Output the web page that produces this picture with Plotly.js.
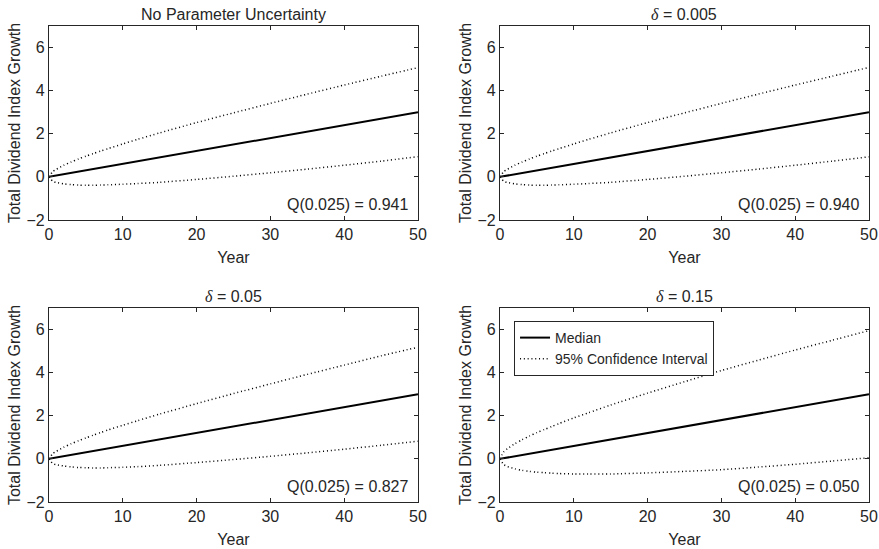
<!DOCTYPE html>
<html>
<head>
<meta charset="utf-8">
<script src="https://cdn.plot.ly/plotly-3.0.1.min.js"></script>
<style>html,body{margin:0;padding:0;background:#fff;}#chart{width:879px;height:549px;}</style>
</head>
<body>
<div id="chart"></div>
<script>
const years = [0, 0.5, 1, 2, 3, 4, 5, 6, 7, 8, 10, 12, 15, 20, 25, 30, 35, 40, 45, 50];

// Median (same in every panel)
const median = [0, 0.03, 0.06, 0.12, 0.18, 0.24, 0.30, 0.36, 0.42, 0.48, 0.60, 0.72, 0.90, 1.20, 1.50, 1.80, 2.10, 2.40, 2.70, 3.00];

// Panel 1: No Parameter Uncertainty
const upper1 = [0, 0.24, 0.35, 0.54, 0.69, 0.83, 0.96, 1.08, 1.20, 1.31, 1.53, 1.74, 2.04, 2.52, 2.97, 3.41, 3.84, 4.26, 4.67, 5.07];
const lower1 = [0, -0.20, -0.26, -0.32, -0.36, -0.38, -0.39, -0.39, -0.38, -0.37, -0.34, -0.31, -0.25, -0.12, 0.03, 0.19, 0.36, 0.54, 0.73, 0.94];

// Panel 2: delta = 0.005
const upper2 = [0, 0.24, 0.35, 0.54, 0.69, 0.83, 0.96, 1.08, 1.20, 1.31, 1.53, 1.74, 2.04, 2.52, 2.97, 3.41, 3.84, 4.26, 4.67, 5.08];
const lower2 = [0, -0.20, -0.26, -0.32, -0.36, -0.38, -0.39, -0.39, -0.38, -0.37, -0.34, -0.31, -0.25, -0.12, 0.03, 0.19, 0.36, 0.54, 0.73, 0.93];

// Panel 3: delta = 0.05
const upper3 = [0, 0.24, 0.35, 0.54, 0.70, 0.84, 0.97, 1.10, 1.22, 1.34, 1.56, 1.77, 2.08, 2.56, 3.03, 3.48, 3.92, 4.35, 4.78, 5.18];
const lower3 = [0, -0.21, -0.27, -0.33, -0.37, -0.40, -0.41, -0.42, -0.42, -0.41, -0.39, -0.36, -0.30, -0.17, -0.03, 0.12, 0.28, 0.45, 0.63, 0.82];

// Panel 4: delta = 0.15
const upper4 = [0, 0.32, 0.47, 0.70, 0.89, 1.06, 1.22, 1.36, 1.50, 1.64, 1.90, 2.14, 2.50, 3.05, 3.58, 4.10, 4.58, 5.05, 5.50, 5.95];
const lower4 = [0, -0.26, -0.35, -0.46, -0.53, -0.58, -0.62, -0.64, -0.66, -0.68, -0.70, -0.70, -0.70, -0.65, -0.58, -0.50, -0.38, -0.25, -0.10, 0.05];

const panelTitles = [
  'No Parameter Uncertainty',
  '<span style="font-family:\'Liberation Serif\',serif;font-style:italic">δ</span> = 0.005',
  '<span style="font-family:\'Liberation Serif\',serif;font-style:italic">δ</span> = 0.05',
  '<span style="font-family:\'Liberation Serif\',serif;font-style:italic">δ</span> = 0.15'
];
const qLabels = ['Q(0.025) = 0.941', 'Q(0.025) = 0.940', 'Q(0.025) = 0.827', 'Q(0.025) = 0.050'];
const xTickVals = [0, 10, 20, 30, 40, 50];
const yTickVals = [-2, 0, 2, 4, 6];
const seriesNames = ['Median', '95% Confidence Interval'];

const uppers = [upper1, upper2, upper3, upper4];
const lowers = [lower1, lower2, lower3, lower4];

const ink = '#262626';
const font = 'Liberation Sans, Arial, Helvetica, sans-serif';
const dotted = '1px,2.8px';

const xDomains = [[0.0557, 0.4755], [0.5688, 0.9886], [0.0557, 0.4755], [0.5688, 0.9886]];
const yDomains = [[0.5993, 0.9526], [0.5993, 0.9526], [0.0856, 0.4390], [0.0856, 0.4390]];

const traces = [];
const layout = {
  width: 879, height: 549,
  margin: {l: 0, r: 0, t: 0, b: 0},
  paper_bgcolor: '#fff', plot_bgcolor: '#fff',
  font: {family: font, color: ink, size: 16},
  showlegend: true,
  legend: {
    x: 0.5848, y: 0.4153, xanchor: 'left', yanchor: 'top',
    bgcolor: '#fff', bordercolor: ink, borderwidth: 1,
    font: {size: 14, family: font, color: ink},
    tracegroupgap: 0, itemwidth: 30
  },
  annotations: []
};

for (let i = 0; i < 4; i++) {
  const s = i === 0 ? '' : String(i + 1);
  const xa = 'x' + s, ya = 'y' + s;
  const isLast = i === 3;
  traces.push({x: years, y: median, xaxis: xa, yaxis: ya, type: 'scatter', mode: 'lines',
    line: {color: '#000', width: 2}, name: seriesNames[0], showlegend: isLast, legendgroup: 'm', hoverinfo: 'skip'});
  traces.push({x: years, y: uppers[i], xaxis: xa, yaxis: ya, type: 'scatter', mode: 'lines', line: {shape: 'spline', smoothing: 0.6,
    color: '#000', width: 1.5, dash: dotted}, name: seriesNames[1], showlegend: isLast, legendgroup: 'c', hoverinfo: 'skip'});
  traces.push({x: years, y: lowers[i], xaxis: xa, yaxis: ya, type: 'scatter', mode: 'lines', line: {shape: 'spline', smoothing: 0.6,
    color: '#000', width: 1.5, dash: dotted}, name: seriesNames[1], showlegend: false, legendgroup: 'c', hoverinfo: 'skip'});

  const axCommon = {showline: true, linecolor: ink, linewidth: 1, mirror: 'ticks', ticks: 'inside', ticklen: 4,
    tickcolor: ink, tickwidth: 1, showgrid: false, zeroline: false, tickfont: {size: 16, family: font, color: ink}};
  layout['xaxis' + s] = Object.assign({}, axCommon, {
    domain: xDomains[i], anchor: ya, range: [0, 50], tickvals: xTickVals,
    title: {text: 'Year', font: {size: 16, family: font, color: ink}, standoff: 9}
  });
  layout['yaxis' + s] = Object.assign({}, axCommon, {
    domain: yDomains[i], anchor: xa, range: [-2, 7], tickvals: yTickVals,
    title: {text: 'Total Dividend Index Growth', font: {size: 16, family: font, color: ink}, standoff: 1}
  });
  layout.annotations.push({
    text: panelTitles[i], xref: xa + ' domain', yref: ya + ' domain', x: 0.5, y: 1,
    xanchor: 'center', yanchor: 'bottom', yshift: 1, showarrow: false,
    font: {size: 16, family: font, color: ink}
  });
  layout.annotations.push({
    text: qLabels[i], xref: xa, yref: ya, x: 49, y: -1.3,
    xanchor: 'right', yanchor: 'middle', showarrow: false,
    font: {size: 16, family: font, color: ink}
  });
}

Plotly.newPlot('chart', traces, layout, {staticPlot: true, displayModeBar: false});
</script>
</body>
</html>
